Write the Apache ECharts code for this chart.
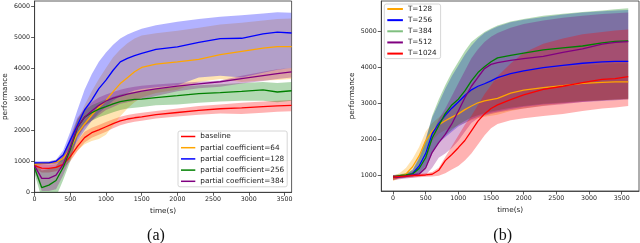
<!DOCTYPE html>
<html><head><meta charset="utf-8">
<script src="https://cdn.jsdelivr.net/npm/echarts@6/dist/echarts.min.js"></script>
<style>html,body{margin:0;padding:0;background:#fff}#c{width:640px;height:243px}</style>
</head><body><div id="c"></div>
<script>
// ---------- Panel (a) ----------
const timeA = [0,100,200,300,400,500,600,700,800,900,1000,1100,1200,1300,1400,1500,1700,2000,2300,2600,2900,3200,3400,3600];
const namesA = ['baseline','partial coefficient=64','partial coefficient=128','partial coefficient=256','partial coefficient=384'];
const colorsA = ['#ff0000','#ffa500','#0000ff','#008000','#800080'];

const baseMean = [860,780,770,800,900,1150,1480,1760,1920,2010,2110,2210,2300,2360,2400,2430,2500,2570,2640,2690,2720,2760,2780,2800];
const baseUp   = [960,900,880,900,1000,1300,1650,1950,2080,2170,2260,2350,2430,2490,2530,2560,2620,2700,2780,2830,2880,2920,2950,2970];
const baseLo   = [760,640,640,680,780,1000,1330,1600,1760,1850,1950,2060,2160,2220,2270,2300,2380,2440,2500,2540,2520,2560,2590,2610];

const pc64Mean = [900,930,940,965,1090,1400,1880,2200,2480,2740,2950,3240,3500,3690,3880,4020,4130,4200,4280,4430,4540,4640,4690,4690];
const pc64Up   = [960,980,990,1050,1250,1700,2300,2800,3250,3650,4000,4350,4600,4800,4950,5050,5120,5200,5300,5400,5460,5530,5580,5600];
const pc64Lo   = [850,880,890,900,950,1050,1350,1550,1650,1720,1850,2150,2450,2700,2900,3050,3200,3300,3550,3650,3550,3600,3620,3650];

const pc128Mean = [950,950,950,1000,1200,1680,2160,2650,2970,3340,3610,3930,4200,4310,4400,4470,4600,4680,4830,4950,4960,5100,5160,5130];
const pc128Up   = [1000,1000,1000,1050,1350,1950,2650,3300,3800,4200,4500,4750,4950,5080,5180,5270,5380,5490,5580,5650,5700,5760,5800,5780];
const pc128Lo   = [900,910,910,930,1000,1300,1650,2000,2300,2550,2750,2950,3100,3200,3280,3330,3380,3450,3700,3750,3700,3850,3950,4000];

const pc256Mean = [780,150,230,380,800,1380,2080,2420,2560,2680,2760,2850,2920,2960,2990,3000,3050,3110,3180,3210,3250,3300,3230,3270];
const pc256Up   = [950,700,750,850,1150,1700,2350,2650,2800,2900,3000,3080,3150,3200,3230,3250,3320,3400,3450,3480,3520,3550,3520,3550];
const pc256Lo   = [600,-200,-200,-150,400,1000,1800,2150,2300,2420,2500,2580,2650,2700,2720,2750,2800,2830,2880,2920,2950,2950,2900,2950];

const pc384Mean = [850,450,450,550,900,1450,2100,2420,2620,2800,2940,3030,3100,3160,3210,3260,3330,3420,3490,3560,3660,3760,3820,3880];
const pc384Up   = [960,950,970,1000,1200,1800,2400,2700,2900,3050,3150,3230,3300,3360,3400,3430,3470,3520,3560,3600,3750,3880,3960,4000];
const pc384Lo   = [700,40,40,100,550,1100,1750,2100,2300,2480,2650,2750,2850,2900,2950,3000,3100,3250,3350,3400,3500,3580,3650,3700];

// ---------- Panel (b) ----------
const timeB = [0,100,200,300,400,500,600,700,800,900,1000,1100,1200,1300,1400,1500,1600,1800,2000,2300,2600,2900,3200,3400,3600];
const namesB = ['T=128','T=256','T=384','T=512','T=1024'];
const colorsB = ['#ffa500','#0000ff','#008000','#800080','#ff0000'];

const t128Mean = [900,960,1030,1230,1530,1950,2220,2400,2510,2610,2700,2820,2920,3010,3060,3100,3130,3280,3360,3430,3490,3550,3580,3590,3590];
const t128Up   = [980,1050,1200,1450,1780,2200,2450,2600,2750,2900,3050,3200,3350,3450,3550,3600,3650,3800,3900,3950,4000,4050,4080,4100,4100];
const t128Lo   = [830,900,930,1050,1300,1700,1950,2150,2250,2300,2380,2450,2520,2580,2620,2650,2680,2780,2850,2930,3000,3050,3080,3100,3100];

const t256Mean = [950,960,980,1040,1250,1600,2150,2430,2660,2860,3030,3210,3370,3470,3540,3620,3710,3820,3900,3990,4050,4110,4150,4160,4160];
const t256Up   = [1000,1000,1030,1150,1500,2000,2600,3000,3400,3750,4050,4350,4600,4800,4950,5050,5130,5250,5320,5400,5470,5520,5560,5580,5590];
const t256Lo   = [880,920,930,950,1050,1250,1650,1900,2050,2200,2350,2450,2550,2620,2680,2730,2770,2840,2900,2960,3000,3030,3060,3080,3100];

const t384Mean = [940,980,1000,1030,1180,1480,2030,2370,2710,2950,3110,3340,3620,3850,4010,4150,4260,4330,4390,4480,4540,4590,4680,4720,4730];
const t384Up   = [1000,1020,1050,1130,1450,1950,2650,3100,3500,3850,4150,4450,4700,4850,4980,5080,5160,5270,5340,5430,5490,5540,5580,5610,5640];
const t384Lo   = [870,920,940,960,1000,1150,1600,1900,2100,2250,2400,2500,2600,2660,2720,2770,2800,2870,2920,2980,3020,3060,3080,3100,3120];

const t512Mean = [920,940,960,1000,1030,1200,1630,1900,2130,2420,2780,3150,3470,3720,3960,4080,4130,4190,4240,4300,4410,4510,4640,4690,4710];
const t512Up   = [990,1000,1020,1080,1200,1550,2150,2550,2850,3200,3550,3900,4250,4500,4700,4850,4950,5100,5200,5300,5380,5430,5480,5500,5520];
const t512Lo   = [850,880,900,920,950,1000,1200,1480,1600,1750,1950,2200,2450,2580,2650,2700,2740,2800,2850,2920,2970,3030,3080,3100,3120];

const t1024Mean = [940,960,970,980,990,1000,1020,1130,1400,1570,1760,1960,2230,2500,2700,2850,2950,3100,3230,3380,3470,3570,3660,3680,3740];
const t1024Up   = [1000,1000,1010,1020,1030,1050,1080,1200,1500,1800,2100,2400,2650,2950,3250,3500,3750,4100,4400,4650,4800,4920,4980,5020,5050];
const t1024Lo   = [860,900,920,930,940,950,960,980,1050,1150,1250,1400,1600,1850,2100,2300,2420,2520,2580,2640,2700,2780,2850,2880,2920];

const ticksX = [0,500,1000,1500,2000,2500,3000,3500];
const ticksYA = [0,1000,2000,3000,4000,5000,6000];
const ticksYB = [1000,2000,3000,4000,5000];

const seriesA = [[baseMean,baseUp,baseLo],[pc64Mean,pc64Up,pc64Lo],[pc128Mean,pc128Up,pc128Lo],[pc256Mean,pc256Up,pc256Lo],[pc384Mean,pc384Up,pc384Lo]];
const seriesB = [[t128Mean,t128Up,t128Lo],[t256Mean,t256Up,t256Lo],[t384Mean,t384Up,t384Lo],[t512Mean,t512Up,t512Lo],[t1024Mean,t1024Up,t1024Lo]];

function buildSeries(xs, sets, names, colors, idx) {
  const bands = [], lines = [];
  sets.forEach((s, k) => {
    const [m, up, lo] = s;
    bands.push({type:'custom', name:'_band'+idx+'_'+k, xAxisIndex:idx, yAxisIndex:idx, silent:true, z:1,
      data:[[xs[0], up[0]]], encode:{x:0, y:1},
      renderItem:(params, api) => {
        const pts = [];
        for (let i = 0; i < xs.length; i++) pts.push(api.coord([xs[i], up[i]]));
        for (let i = xs.length - 1; i >= 0; i--) pts.push(api.coord([xs[i], lo[i]]));
        const cs = params.coordSys;
        return {type:'polygon', shape:{points:pts}, style:{fill:colors[k], opacity:0.3},
          clipPath:{type:'rect', shape:{x:cs.x, y:cs.y, width:cs.width, height:cs.height}}};
      }});
    lines.push({type:'line', name:names[k], xAxisIndex:idx, yAxisIndex:idx, color:colors[k],
      data: xs.map((x,i)=>[x, m[i]]), showSymbol:false, symbol:'none', smooth:false,
      lineStyle:{width:1.3, color:colors[k]}, itemStyle:{color:colors[k]}, z:3});
  });
  return bands.concat(lines);
}

const axisCol = '#333';
const tickFont = {fontSize:6.3, color:'#222', fontFamily:'DejaVu Sans', formatter: v => String(v)};
function xAx(idx, min, max, gap) {
  return {type:'value', gridIndex:idx, min, max, name:'time(s)', nameLocation:'middle', nameGap:gap,
    nameTextStyle:{fontSize:7.3, color:'#222', fontFamily:'DejaVu Sans'},
    axisLine:{show:true, onZero:false, lineStyle:{color:axisCol, width:0.8}},
    axisTick:{show:true, length:3.5, customValues:ticksX, lineStyle:{color:axisCol, width:0.8}},
    axisLabel:Object.assign({margin:4.5, customValues:ticksX}, tickFont),
    splitLine:{show:false}};
}
function yAx(idx, min, max, ticks) {
  return {type:'value', gridIndex:idx, min, max, name:'performance', nameLocation:'middle', nameRotate:90, nameGap:26,
    nameTextStyle:{fontSize:7.3, color:'#222', fontFamily:'DejaVu Sans'},
    axisLine:{show:true, onZero:false, lineStyle:{color:axisCol, width:0.8}},
    axisTick:{show:true, length:3.5, customValues:ticks, lineStyle:{color:axisCol, width:0.8}},
    axisLabel:Object.assign({margin:4.5, customValues:ticks}, tickFont),
    splitLine:{show:false}};
}

const legendCommon = {orient:'vertical', icon:'rect', backgroundColor:'#fff', borderColor:'#ccc', borderWidth:0.8,
  borderRadius:2, selectedMode:false};

const chart = echarts.init(document.getElementById('c'), null, {renderer:'canvas'});
chart.setOption({
  animation:false,
  backgroundColor:'#fff',
  grid:[
    {left:34.6, top:1, width:257, height:191.3, show:true, borderColor:axisCol, borderWidth:0.8, backgroundColor:'transparent'},
    {left:381.3, top:1, width:257.7, height:190, show:true, borderColor:axisCol, borderWidth:0.8, backgroundColor:'transparent'}
  ],
  xAxis:[xAx(0, 0, 3600, 14.7), xAx(1, -179, 3765, 15.3)],
  yAxis:[yAx(0, 0, 6160, ticksYA), yAx(1, 554, 5843, ticksYB)],
  legend:[
    Object.assign({}, legendCommon, {left:178, top:131, data:namesA, itemWidth:14.3, itemHeight:1.5, itemGap:2.2,
      padding:[1,3,1,3], textStyle:{fontSize:7.3, lineHeight:9, color:'#222', fontFamily:'DejaVu Sans'}}),
    Object.assign({}, legendCommon, {left:384.3, top:4, itemWidth:15.6, itemHeight:2, itemGap:3.15,
      padding:[1,4,1,3], textStyle:{fontSize:7.2, lineHeight:8, color:'#222', fontFamily:'DejaVu Sans'},
      data:namesB.map((n,k)=> k===2 ? {name:n, itemStyle:{color:'#7fbf7f'}} : {name:n})})
  ],
  graphic:[
    {type:'text', x:156, y:236, style:{text:'(a)', font:'16px "Liberation Serif"', fill:'#111', textAlign:'center', textVerticalAlign:'middle'}},
    {type:'text', x:502.7, y:236, style:{text:'(b)', font:'16px "Liberation Serif"', fill:'#111', textAlign:'center', textVerticalAlign:'middle'}}
  ],
  series: buildSeries(timeA, seriesA, namesA, colorsA, 0).concat(buildSeries(timeB, seriesB, namesB, colorsB, 1))
});
</script>
</body></html>
